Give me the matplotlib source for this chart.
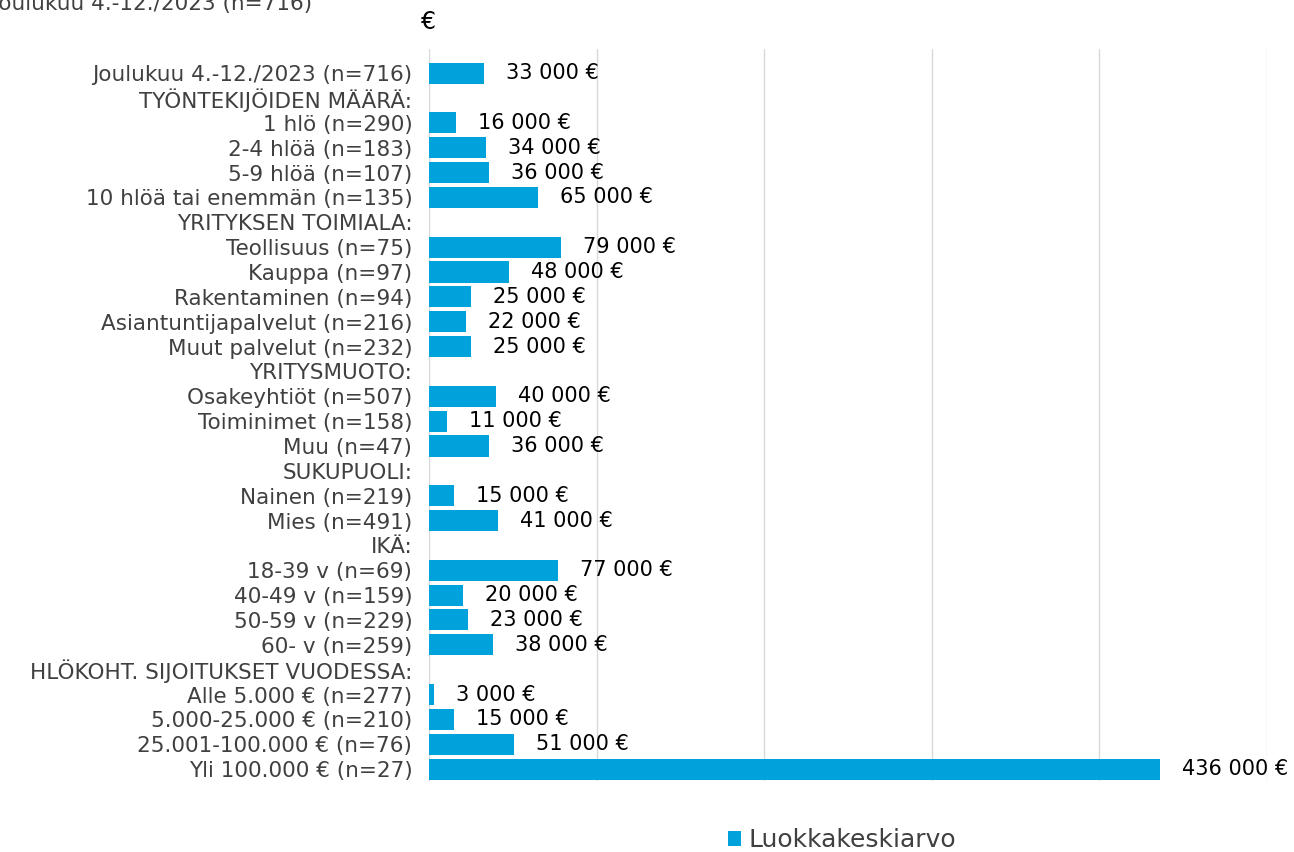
import matplotlib
matplotlib.use("Agg")
import matplotlib.pyplot as plt
import numpy as np

categories = [
    "Joulukuu 4.-12./2023 (n=716)",
    "TYÖNTEKIJÖIDEN MÄÄRÄ:",
    "1 hlö (n=290)",
    "2-4 hlöä (n=183)",
    "5-9 hlöä (n=107)",
    "10 hlöä tai enemmän (n=135)",
    "YRITYKSEN TOIMIALA:",
    "Teollisuus (n=75)",
    "Kauppa (n=97)",
    "Rakentaminen (n=94)",
    "Asiantuntijapalvelut (n=216)",
    "Muut palvelut (n=232)",
    "YRITYSMUOTO:",
    "Osakeyhtiöt (n=507)",
    "Toiminimet (n=158)",
    "Muu (n=47)",
    "SUKUPUOLI:",
    "Nainen (n=219)",
    "Mies (n=491)",
    "IKÄ:",
    "18-39 v (n=69)",
    "40-49 v (n=159)",
    "50-59 v (n=229)",
    "60- v (n=259)",
    "HLÖKOHT. SIJOITUKSET VUODESSA:",
    "Alle 5.000 € (n=277)",
    "5.000-25.000 € (n=210)",
    "25.001-100.000 € (n=76)",
    "Yli 100.000 € (n=27)",
]
values = [
    33000, None, 16000, 34000, 36000, 65000, None,
    79000, 48000, 25000, 22000, 25000, None,
    40000, 11000, 36000, None, 15000, 41000, None,
    77000, 20000, 23000, 38000, None,
    3000, 15000, 51000, 436000,
]
series_name = "Luokkakeskiarvo"
title = "Joulukuu 4.-12./2023 (n=716)"
unit = "€"

W, H = 1294, 852
fig = plt.figure(figsize=(W / 100, H / 100), dpi=100)
ax = fig.add_axes([429 / W, 1 - 781 / H, (1267 - 429) / W, (781 - 49) / H])

y = np.arange(len(categories))
vals = np.array([np.nan if v is None else v for v in values], dtype=float)
bar_color = "#00A2DB"
bars = ax.barh(y, np.nan_to_num(vals), height=0.85, color=bar_color, zorder=3,
               label=series_name)
for yi, v in zip(y, vals):
    if not np.isnan(v):
        ax.annotate(f"{int(v):,}".replace(",", " ") + " €", xy=(v, yi),
                    xytext=(22, 0), textcoords="offset pixels",
                    va="center", ha="left", fontsize=15, color="black",
                    zorder=4)

ax.set_xlim(0, 500000)
ax.set_ylim(28.48, -0.97)
ax.set_xticks(np.arange(0, 500001, 100000))
ax.set_xticklabels([])
ax.tick_params(axis="x", length=0)
ax.grid(axis="x", color="#D9D9D9", linewidth=1, zorder=0)
ax.set_yticks(y)
ax.set_yticklabels(categories, fontsize=15.5, color="#404040")
ax.tick_params(axis="y", length=0, pad=12)
for s in ["top", "right", "bottom", "left"]:
    ax.spines[s].set_visible(False)

fig.text(312 / W, 1 - 4 / H, title, ha="right", va="center", fontsize=15.5, color="#404040")
fig.text(421 / W, 1 - 22 / H, unit, ha="left", va="center", fontsize=17, color="black")

leg = fig.legend(handles=[bars], labels=[series_name], loc="center",
                 bbox_to_anchor=(842 / W, 1 - 840 / H), frameon=False, fontsize=18,
                 handlelength=0.55, handleheight=0.55, handletextpad=0.3)
for t in leg.get_texts():
    t.set_color("#404040")

fig.savefig("out.png", dpi=100)
